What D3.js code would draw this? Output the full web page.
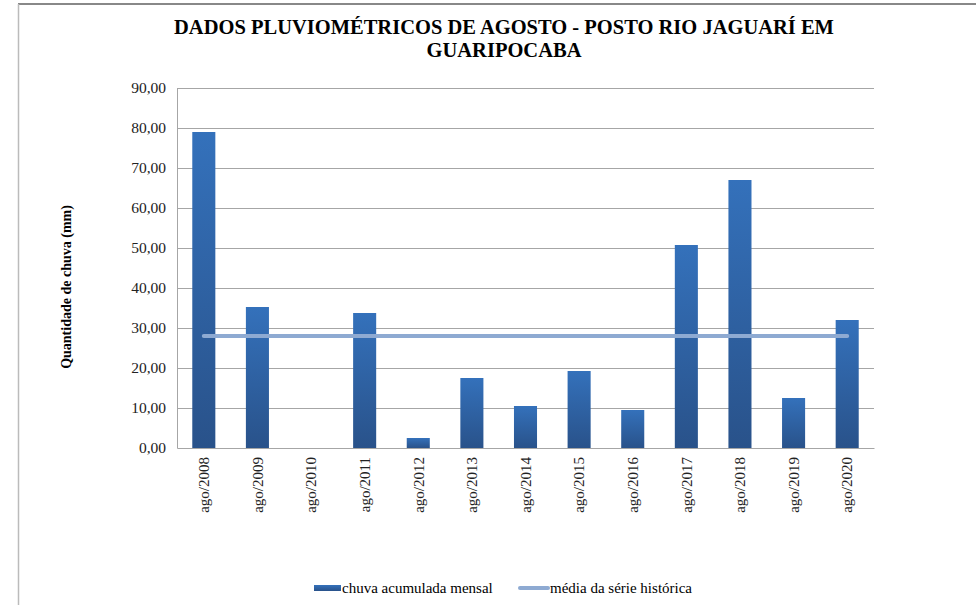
<!DOCTYPE html>
<html>
<head>
<meta charset="utf-8">
<script src="https://cdn.jsdelivr.net/npm/d3@7"></script>
<style>
  body { margin: 0; background: #fff; }
</style>
</head>
<body>
<svg id="chart" width="976" height="605"></svg>
<script>
// data
var categories = ['ago/2008', 'ago/2009', 'ago/2010', 'ago/2011', 'ago/2012', 'ago/2013', 'ago/2014',
                  'ago/2015', 'ago/2016', 'ago/2017', 'ago/2018', 'ago/2019', 'ago/2020'];
var rainfall = [79.0, 35.25, 0, 33.75, 2.5, 17.5, 10.5, 19.25, 9.5, 50.75, 67.0, 12.5, 32.0];
var historicMean = 28.0;
var yTicks = [0, 10, 20, 30, 40, 50, 60, 70, 80, 90];

var SERIF = '"Liberation Serif", "Times New Roman", serif';

var svg = d3.select('#chart');
var margin = { left: 177, right: 102, top: 88, bottom: 157 };
var w = 976 - margin.left - margin.right,
    h = 605 - margin.top - margin.bottom;

// outer frame (only top and left visible in the original)
svg.append('line').attr('x1', 18).attr('x2', 976).attr('y1', 4).attr('y2', 4)
  .attr('stroke', '#888').attr('stroke-width', 2);
svg.append('line').attr('x1', 18.5).attr('x2', 18.5).attr('y1', 4).attr('y2', 605)
  .attr('stroke', '#bbb').attr('stroke-width', 1.5);

var defs = svg.append('defs');
var grad = defs.append('linearGradient').attr('id', 'barGrad')
  .attr('x1', 0).attr('y1', 0).attr('x2', 0).attr('y2', 1);
grad.append('stop').attr('offset', '0%').attr('stop-color', '#3471bb');
grad.append('stop').attr('offset', '100%').attr('stop-color', '#29528a');

var x = d3.scaleBand().domain(categories).range([0, w]).paddingInner(0.57).paddingOuter(0.285);
var y = d3.scaleLinear().domain([0, 90]).range([h, 0]);

var g = svg.append('g').attr('transform', 'translate(' + margin.left + ',' + margin.top + ')');

// gridlines
g.selectAll('.grid').data(yTicks.slice(1)).enter().append('line')
  .attr('x1', 0).attr('x2', w)
  .attr('y1', function(d) { return Math.round(y(d)) + 0.5; })
  .attr('y2', function(d) { return Math.round(y(d)) + 0.5; })
  .attr('stroke', '#a6a6a6').attr('stroke-width', 1);

// y axis
var yAxis = g.append('g').call(d3.axisLeft(y).tickValues(yTicks).tickSize(0).tickPadding(11)
  .tickFormat(function(d) { return d3.format('.2f')(d).replace('.', ','); }));
yAxis.select('.domain').attr('stroke', '#a6a6a6');
yAxis.selectAll('text').style('font-size', '15.5px').style('font-family', SERIF).attr('fill', '#222');

// x axis
var xAxis = g.append('g').attr('transform', 'translate(0,' + h + ')')
  .call(d3.axisBottom(x).tickSize(0).tickPadding(0));
xAxis.select('.domain').attr('stroke', '#a6a6a6');
xAxis.selectAll('text')
  .style('font-size', '15px').style('font-family', SERIF).attr('fill', '#222')
  .attr('text-anchor', 'end')
  .attr('transform', 'rotate(-90)')
  .attr('x', -9).attr('y', 0).attr('dy', '0.35em');

// bars
g.selectAll('.bar').data(rainfall).enter().append('rect')
  .attr('x', function(d, i) { return x(categories[i]); })
  .attr('y', function(d) { return y(d); })
  .attr('width', x.bandwidth())
  .attr('height', function(d) { return h - y(d); })
  .attr('fill', 'url(#barGrad)');

// historical mean line
var first = x(categories[0]) + x.bandwidth() / 2,
    last = x(categories[categories.length - 1]) + x.bandwidth() / 2;
g.append('line')
  .attr('x1', first).attr('x2', last)
  .attr('y1', y(historicMean)).attr('y2', y(historicMean))
  .attr('stroke', '#8eaad2').attr('stroke-width', 4).attr('stroke-linecap', 'round');

// title
svg.append('text').attr('x', 504).attr('y', 34).attr('text-anchor', 'middle')
  .style('font-family', SERIF).style('font-size', '20.5px').style('font-weight', 'bold')
  .text('DADOS PLUVIOMÉTRICOS DE AGOSTO - POSTO RIO JAGUARÍ EM');
svg.append('text').attr('x', 504).attr('y', 57).attr('text-anchor', 'middle')
  .style('font-family', SERIF).style('font-size', '20.5px').style('font-weight', 'bold')
  .text('GUARIPOCABA');

// y label
svg.append('text').attr('transform', 'translate(71,287) rotate(-90)').attr('text-anchor', 'middle')
  .style('font-family', SERIF).style('font-size', '14px').style('font-weight', 'bold')
  .text('Quantidade de chuva (mm)');

// legend
var leg = svg.append('g').attr('transform', 'translate(0,588)');
leg.append('rect').attr('x', 314).attr('y', -3).attr('width', 27).attr('height', 6).attr('fill', 'url(#barGrad)');
leg.append('text').attr('x', 342).attr('y', 0).attr('dy', '0.35em')
  .style('font-family', SERIF).style('font-size', '15px')
  .text('chuva acumulada mensal');
leg.append('line').attr('x1', 520).attr('x2', 548).attr('y1', 0).attr('y2', 0)
  .attr('stroke', '#8eaad2').attr('stroke-width', 4).attr('stroke-linecap', 'round');
leg.append('text').attr('x', 550).attr('y', 0).attr('dy', '0.35em')
  .style('font-family', SERIF).style('font-size', '15px')
  .text('média da série histórica');
</script>
</body>
</html>
